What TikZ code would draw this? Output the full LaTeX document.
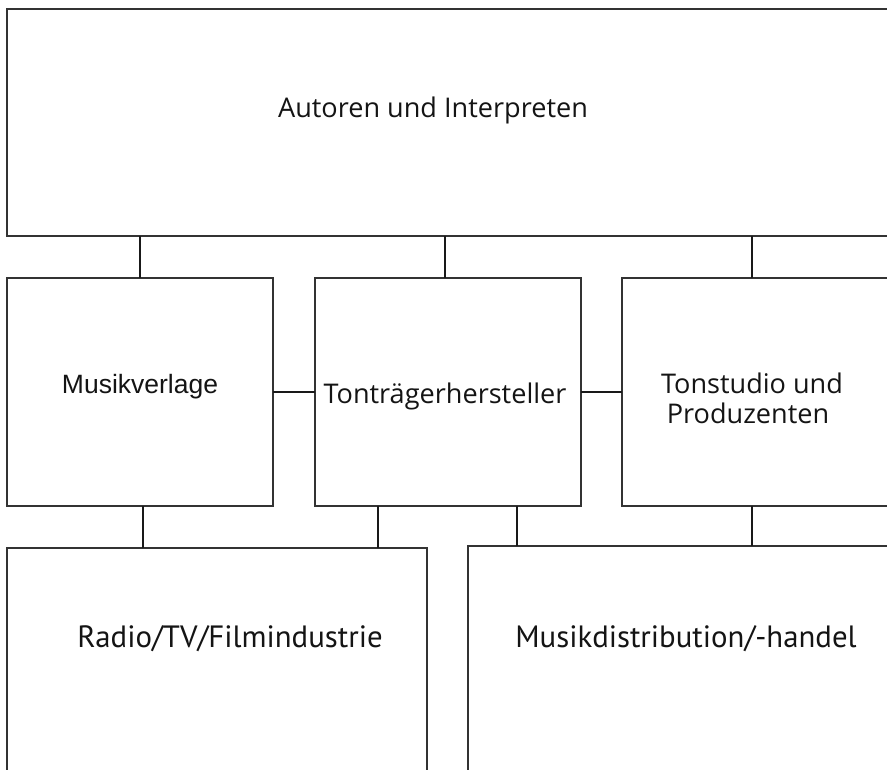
\documentclass[tikz,border=0pt]{standalone}
\usepackage{fontspec}
\setmainfont{Open Sans}
\newfontfamily\arialf{Liberation Sans}
\newfontfamily\condf{PT Sans}
\usetikzlibrary{calc}
\begin{document}
\begin{tikzpicture}[x=1pt,y=-1pt,
  box/.style={draw=black!80,line width=1.3pt,rectangle,anchor=north west,inner sep=0pt,outer sep=0pt},
  conn/.style={draw=black!90,line width=2.4pt},
  lbl/.style={inner sep=0pt,text=black!92,font=\fontsize{27.1}{30}\selectfont},
  lblarial/.style={inner sep=0pt,text=black!92,font=\arialf\fontsize{26.5}{30}\selectfont},
  lblcond/.style={inner sep=0pt,text=black!92,font=\condf\fontsize{30.8}{30}\selectfont}]
\useasboundingbox (0,0) rectangle (887,770);
\clip (0,0) rectangle (887,770);
\fill[white] (0,0) rectangle (887,770);
% boxes
\node[box,minimum width=960pt,minimum height=227pt] (top) at (7,9) {};
\node[box,minimum width=266pt,minimum height=228pt] (mv) at (7,278) {};
\node[box,minimum width=266pt,minimum height=228pt] (tt) at (315,278) {};
\node[box,minimum width=340pt,minimum height=228pt] (ts) at (622,278) {};
\node[box,minimum width=420pt,minimum height=260pt] (rf) at (7,548) {};
\node[box,minimum width=500pt,minimum height=260pt] (md) at (468,546) {};
% connectors
\coordinate (c1) at ($(mv.north west)+(133,0)$);
\coordinate (c2) at ($(tt.north west)+(130,0)$);
\coordinate (c3) at ($(ts.north west)+(130,0)$);
\draw[conn] (c1) -- (c1 |- top.south);
\draw[conn] (c2) -- (c2 |- top.south);
\draw[conn] (c3) -- (c3 |- top.south);
\draw[conn] (mv.east) -- (tt.west);
\draw[conn] (tt.east) -- (ts.west);
\coordinate (d1) at ($(rf.north west)+(136,0)$);
\coordinate (d2) at ($(rf.north west)+(371,0)$);
\coordinate (d3) at ($(md.north west)+(49,0)$);
\coordinate (d4) at ($(md.north west)+(284,0)$);
\draw[conn] (d1) -- (d1 |- mv.south);
\draw[conn] (d2) -- (d2 |- tt.south);
\draw[conn] (d3) -- (d3 |- tt.south);
\draw[conn] (d4) -- (d4 |- ts.south);
% labels
\node[lbl,anchor=base] (t1) at (433,118) {Autoren und Interpreten};
\node[lblarial,anchor=base] (t2) at (140,393) {Musikverlage};
\node[lbl,anchor=base] (t3) at (445,403) {Tonträgerhersteller};
\node[lbl,anchor=base] (t4a) at (752,393) {Tonstudio und};
\node[lbl,anchor=base] (t4b) at (748,423) {Produzenten};
\node[lblcond,anchor=base] (t5) at (230,647) {Radio/TV/Filmindustrie};
\node[lblcond,anchor=base] (t6) at (686,647) {Musikdistribution/-handel};
\end{tikzpicture}
\end{document}
